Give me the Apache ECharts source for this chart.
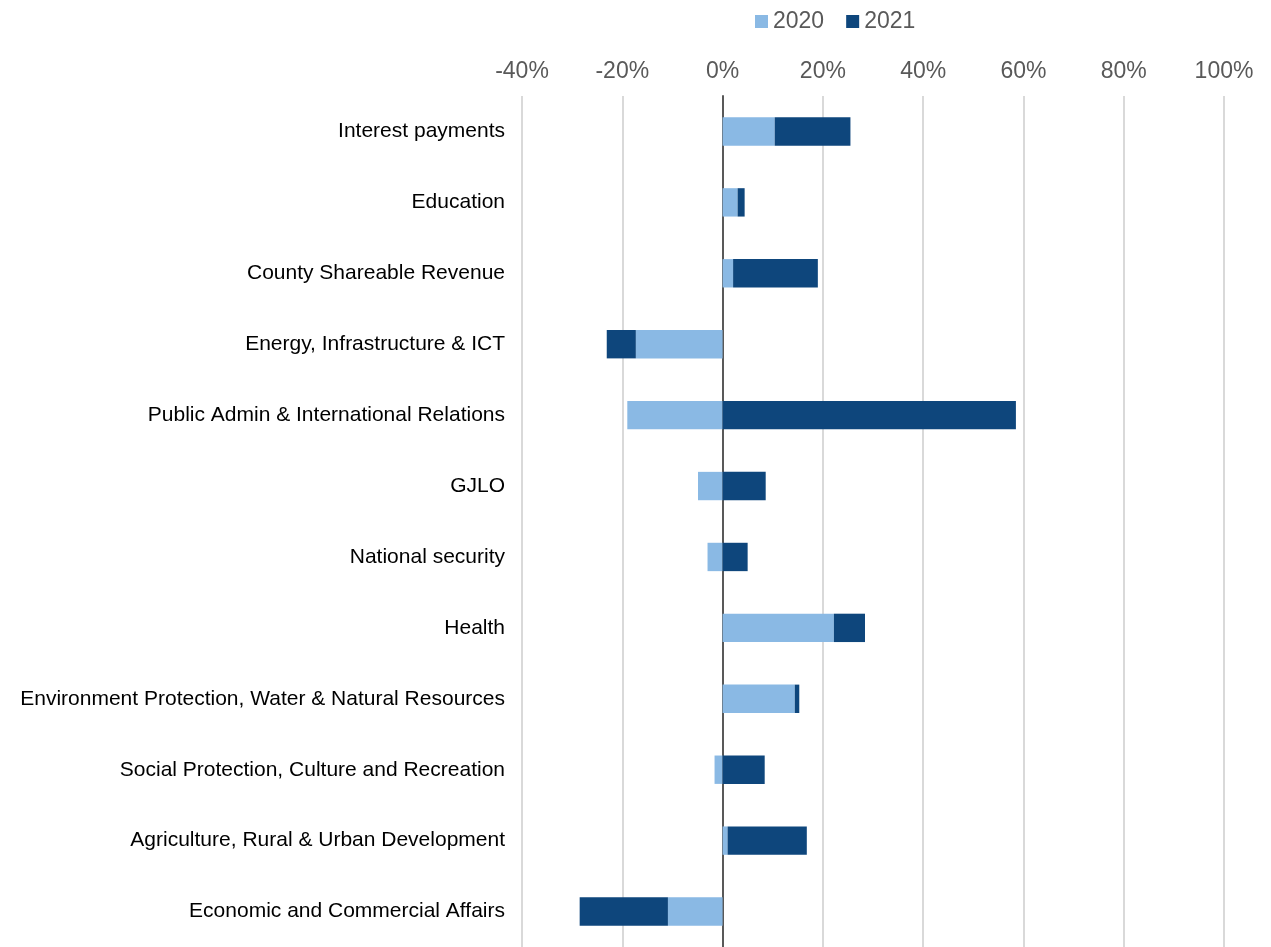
<!DOCTYPE html>
<html>
<head>
<meta charset="utf-8">
<script src="https://cdn.jsdelivr.net/npm/echarts@6/dist/echarts.min.js"></script>
<style>
  html, body { margin: 0; padding: 0; background: #fff; }
  #chart { width: 1271px; height: 947px; }
</style>
</head>
<body>
<div id="chart"></div>
<script>
var categories = [
    'Interest payments',
    'Education',
    'County Shareable Revenue',
    'Energy, Infrastructure & ICT',
    'Public Admin & International Relations',
    'GJLO',
    'National security',
    'Health',
    'Environment Protection, Water & Natural Resources',
    'Social Protection, Culture and Recreation',
    'Agriculture, Rural & Urban Development',
    'Economic and Commercial Affairs'
];
var values2020 = [10.4, 3.0, 2.1, -17.3, -19.0, -4.9, -3.0, 22.2, 14.4, -1.6, 1.0, -10.9];
var values2021 = [15.1, 1.4, 16.9, -5.8, 58.5, 8.6, 5.0, 6.2, 0.9, 8.4, 15.8, -17.6];
var tickMin = -40, tickMax = 100, tickStep = 20;

var chart = echarts.init(document.getElementById('chart'));
var font = 'Liberation Sans, Arial, sans-serif';

chart.setOption({
    animation: false,
    textStyle: { fontFamily: font },
    legend: {
        top: 5,
        left: 750,
        icon: 'rect',
        itemWidth: 13,
        itemHeight: 13,
        itemGap: 22,
        textStyle: { fontSize: 23, color: '#595959', fontFamily: font },
        data: ['2020', '2021']
    },
    grid: { left: 522, right: 47, top: 96, bottom: -3, containLabel: false },
    xAxis: {
        type: 'value',
        position: 'top',
        min: tickMin,
        max: tickMax,
        interval: tickStep,
        axisLine: { show: false },
        axisTick: { show: false },
        axisLabel: {
            formatter: '{value}%',
            fontSize: 23,
            color: '#595959',
            margin: 13,
            fontFamily: font
        },
        splitLine: { lineStyle: { color: '#d9d9d9', width: 2 } }
    },
    yAxis: {
        type: 'category',
        inverse: true,
        data: categories,
        axisLine: { onZero: true, lineStyle: { color: '#595959', width: 2 } },
        axisTick: { show: false },
        axisLabel: {
            fontSize: 21,
            color: '#000',
            margin: 17,
            fontFamily: font
        }
    },
    series: [
        {
            name: '2020',
            type: 'bar',
            stack: 'total',
            barCategoryGap: '60%',
            itemStyle: { color: '#8ab9e4' },
            data: values2020
        },
        {
            name: '2021',
            type: 'bar',
            stack: 'total',
            barCategoryGap: '60%',
            itemStyle: { color: '#0e467c' },
            data: values2021
        }
    ]
});
</script>
</body>
</html>
